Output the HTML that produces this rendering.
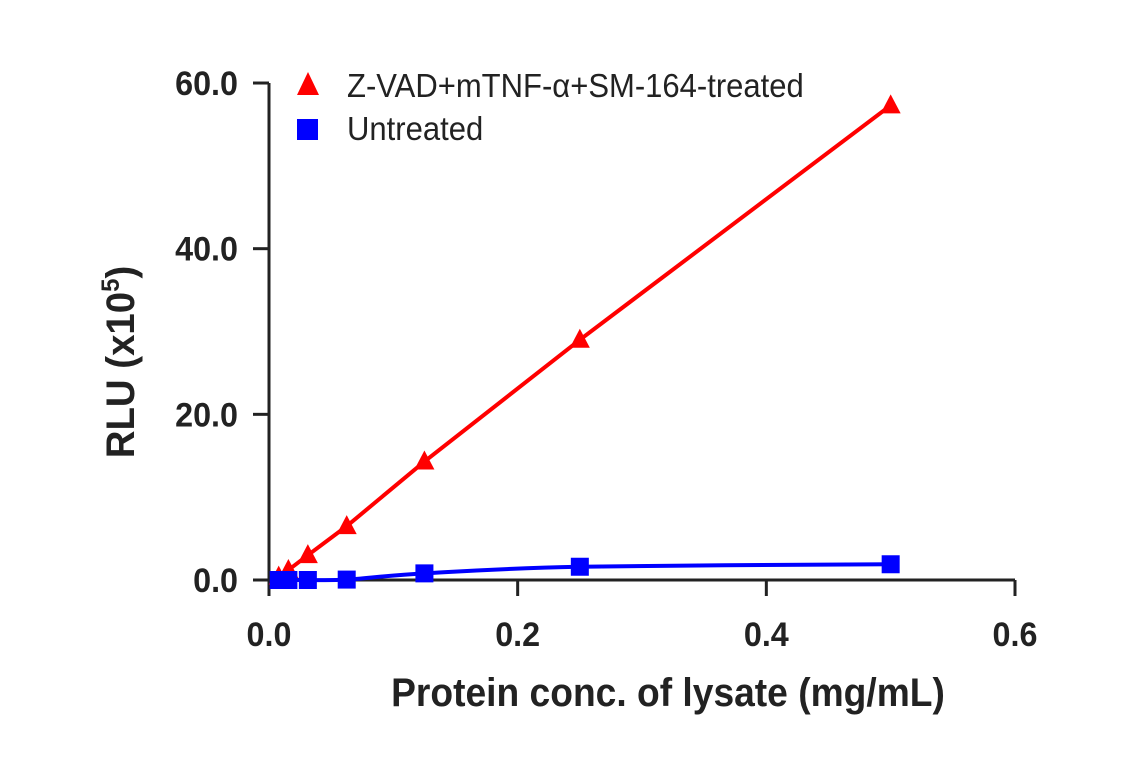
<!DOCTYPE html>
<html><head><meta charset="utf-8"><style>
body{margin:0;background:#fff;}
svg{display:block;font-family:"Liberation Sans",sans-serif;}
</style></head><body>
<svg id="chart" width="1141" height="768">
<g id="axes"></g>
<g id="marks"></g>
<text x="668" y="706" text-anchor="middle" font-size="40" font-weight="bold" fill="#222" transform="scale(0.93,1)" style="transform-origin:668px 706px">Protein conc. of lysate (mg/mL)</text>
<text transform="translate(134,362) rotate(-90) scale(0.96,1)" text-anchor="middle" font-size="40" font-weight="bold" fill="#222">RLU (x10<tspan font-size="25" dy="-15">5</tspan><tspan dy="15">)</tspan></text>
<g>
<polygon points="308,72 297,95 319,95" fill="#f00"/>
<text x="347" y="97" font-size="33" fill="#222" transform="scale(0.94,1)" style="transform-origin:347px 97px">Z-VAD+mTNF-α+SM-164-treated</text>
<rect x="297" y="119" width="21" height="21" fill="#00f"/>
<text x="347" y="140" font-size="33" fill="#222" transform="scale(0.94,1)" style="transform-origin:347px 140px">Untreated</text>
</g>
</svg>
<script>
const xValues=[0.0078,0.0156,0.03125,0.0625,0.125,0.25,0.5];
const treated=[0.4,1.2,3.0,6.5,14.3,29.0,57.3];
const untreated=[0,0,0,0.05,0.8,1.6,1.9];
const xTicks=[0,0.2,0.4,0.6];
const yTicks=[0,20,40,60];
const xTickLabels=["0.0","0.2","0.4","0.6"];
const yTickLabels=["0.0","20.0","40.0","60.0"];
const NS="http://www.w3.org/2000/svg";
const X=v=>269+v/0.6*746;
const Y=v=>580-v*8.283;
function mk(tag,attrs,parent){const e=document.createElementNS(NS,tag);for(const k in attrs)e.setAttribute(k,attrs[k]);parent.appendChild(e);return e;}
const axes=document.getElementById('axes'),marks=document.getElementById('marks');
let e=mk('line',{x1:269,y1:Y(60),x2:269,y2:596,stroke:'#222','stroke-width':3},axes);


e=mk('line',{x1:253,y1:580,x2:X(0.6),y2:580,stroke:'#222','stroke-width':3},axes);


xTicks.forEach((t,i)=>{
 e=mk('line',{x1:X(t),y1:580,x2:X(t),y2:596,stroke:'#222','stroke-width':3},axes);
 
 
 e=mk('text',{x:X(t),y:646,'text-anchor':'middle','font-size':34,'font-weight':600,fill:'#222',transform:`translate(${X(t)},0) scale(0.95,1) translate(${-X(t)},0)`},axes);
 e.textContent=xTickLabels[i];
 
 
});
yTicks.forEach((t,i)=>{
 e=mk('line',{x1:253,y1:Y(t),x2:269,y2:Y(t),stroke:'#222','stroke-width':3},axes);
 
 
 e=mk('text',{x:238,y:Y(t)+12,'text-anchor':'end','font-size':34,'font-weight':600,fill:'#222',transform:`translate(238,0) scale(0.95,1) translate(-238,0)`},axes);
 e.textContent=yTickLabels[i];
 
 
});
e=mk('polyline',{points:xValues.map((x,i)=>X(x)+','+Y(treated[i])).join(' '),fill:'none',stroke:'#f00','stroke-width':4},marks);


function smooth(pts){
 let d=`M${pts[0][0]},${pts[0][1]}`;
 for(let i=0;i<pts.length-1;i++){
  const p0=pts[Math.max(0,i-1)],p1=pts[i],p2=pts[i+1],p3=pts[Math.min(pts.length-1,i+2)];
  const c1=[p1[0]+(p2[0]-p0[0])/6,p1[1]+(p2[1]-p0[1])/6];
  const c2=[p2[0]-(p3[0]-p1[0])/6,p2[1]-(p3[1]-p1[1])/6];
  d+=` C${c1[0]},${c1[1]} ${c2[0]},${c2[1]} ${p2[0]},${p2[1]}`;
 }
 return d;
}
e=mk('path',{d:smooth(xValues.map((x,i)=>[X(x),Y(untreated[i])])),fill:'none',stroke:'#00f','stroke-width':4},marks);


xValues.forEach((x,i)=>{
 const cx=X(x),cy=Y(treated[i]);
 e=mk('polygon',{points:`${cx},${cy-11} ${cx-10},${cy+8} ${cx+10},${cy+8}`,fill:'#f00'},marks);
 
 
});
xValues.forEach((x,i)=>{
 const cx=X(x),cy=Y(untreated[i]);
 e=mk('rect',{x:cx-9,y:cy-9,width:18,height:18,fill:'#00f'},marks);
 
 
});
</script>
</body></html>
